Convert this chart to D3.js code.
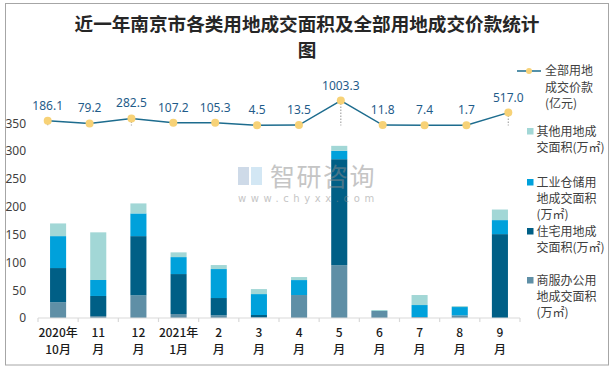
<!DOCTYPE html>
<html><head><meta charset="utf-8">
<script src="https://cdn.jsdelivr.net/npm/d3@7"></script>
<style>
html,body{margin:0;padding:0;background:#fff;}
svg{display:block;font-family:"Noto Sans CJK SC","Noto Sans",sans-serif;}
</style></head>
<body><svg id="c" width="616" height="369"></svg>
<script>
const categories = ["2020年\n10月","11\n月","12\n月","2021年\n1月","2\n月","3\n月","4\n月","5\n月","6\n月","7\n月","8\n月","9\n月"];
const commercial  = [28.2, 3.6, 40.7, 7.2, 4.8, 1.8, 41.3, 95.0, 12.6, 1.8, 4.8, 0];
const residential = [61.6, 36.0, 106.5, 71.8, 31.1, 3.6, 0, 190.5, 0, 0, 0, 150.8];
const industrial  = [57.4, 28.7, 40.8, 30.5, 52.1, 37.6, 26.9, 15.0, 0, 21.5, 14.9, 25.2];
const other       = [22.8, 85.7, 18.0, 8.5, 7.2, 9.0, 5.4, 9.0, 1.8, 18.0, 1.8, 19.0];
const totalPrice  = [186.1, 79.2, 282.5, 107.2, 105.3, 4.5, 13.5, 1003.3, 11.8, 7.4, 1.7, 517.0];
const yTicks = [0, 50, 100, 150, 200, 250, 300, 350];

const seriesKeys = ["commercial","residential","industrial","other"];
const seriesNames = {
  other: ["其他用地成","交面积(万㎡)"],
  industrial: ["工业仓储用","地成交面积","(万㎡)"],
  residential: ["住宅用地成","交面积(万㎡)"],
  commercial: ["商服办公用","地成交面积","(万㎡)"]
};
const colors = {commercial:"#5f8fa6", residential:"#005f86", industrial:"#00a1db", other:"#a2d7d6"};
const lineColor = "#1d6c8e", dotColor = "#f7d277", labelColor = "#1f5c8a";

const table = categories.map((c,i)=>({cat:c, commercial:commercial[i], residential:residential[i], industrial:industrial[i], other:other[i], price:totalPrice[i]}));

const svg = d3.select("#c");
// frame
svg.append("rect").attr("x",5.5).attr("y",3.5).attr("width",603).attr("height",361.5)
  .attr("fill","none").attr("stroke","#a6a6a6").attr("stroke-width",1);

// title
const title = svg.append("text").attr("text-anchor","middle").attr("font-weight","bold")
  .attr("font-size",18.6).attr("fill","#262626");
title.append("tspan").attr("x",307).attr("y",31).text("近一年南京市各类用地成交面积及全部用地成交价款统计");
title.append("tspan").attr("x",307).attr("y",57).text("图");

const x0 = 38, x1 = 520, yBottom = 318, yTop = 95.5;
const x = d3.scaleBand().domain(categories).range([x0,x1]).paddingInner(0.6).paddingOuter(0.3);
const xp = d3.scalePoint().domain(categories).range([47.7,508.3]);
const y = d3.scaleLinear().domain([0,400]).range([yBottom,yTop]);
const y2 = d3.scaleLinear().domain([-7800,1210]).range([yBottom,yTop]);

// y axis labels
const yAxis = d3.axisLeft(y).tickValues(yTicks).tickSize(0).tickPadding(0);
const ya = svg.append("g").attr("transform","translate(26,0)").call(yAxis);
ya.select(".domain").remove();
ya.selectAll("text").attr("font-size",12).attr("fill","#404040").attr("font-family","'Noto Sans','DejaVu Sans',sans-serif");

// stacked bars
const stack = d3.stack().keys(seriesKeys)(table);
svg.append("g").selectAll("g").data(stack).join("g")
  .attr("fill",d=>colors[d.key])
  .selectAll("rect").data(d=>d).join("rect")
  .attr("x",d=>x(d.data.cat)).attr("width",x.bandwidth())
  .attr("y",d=>y(d[1])).attr("height",d=>Math.max(0,y(d[0])-y(d[1])));

// x axis
const xAxisG = svg.append("g").attr("transform",`translate(0,${yBottom})`);
xAxisG.append("line").attr("x1",x0).attr("x2",x1).attr("stroke","#d9d9d9").attr("stroke-width",1.2);
const step = x.step();
xAxisG.selectAll("line.tk").data(d3.range(categories.length+1)).join("line").attr("class","tk")
  .attr("x1",i=>x0+i*step).attr("x2",i=>x0+i*step).attr("y1",0).attr("y2",4)
  .attr("stroke","#d9d9d9").attr("stroke-width",1.2);
const xl = xAxisG.selectAll("text").data(categories).join("text")
  .attr("text-anchor","middle").attr("font-size",12).attr("font-weight",500).attr("fill","#1a1a1a");
xl.each(function(c){
  const t = d3.select(this);
  c.split("\n").forEach((s,k)=>t.append("tspan").attr("x",x(c)+x.bandwidth()/2).attr("y",19+k*17).text(s));
});

// watermark
const wm = svg.append("g").attr("opacity",0.5);
wm.append("rect").attr("x",238).attr("y",167).attr("width",11).attr("height",18).attr("fill","#9fb6d2");
wm.append("rect").attr("x",251).attr("y",167).attr("width",11).attr("height",18).attr("fill","#a9d0ea");
wm.append("text").attr("x",270).attr("y",186).attr("font-size",25).attr("fill","#8c8c8c").attr("letter-spacing",1.5).text("智研咨询");
wm.append("text").attr("x",238).attr("y",202).attr("font-size",10).attr("fill","#8c8c8c").attr("letter-spacing",4.6)
  .attr("font-family","'DejaVu Sans',sans-serif").text("www.chyxx.com");

// drop lines
svg.append("g").selectAll("line").data(table).join("line")
  .attr("x1",d=>xp(d.cat)).attr("x2",d=>xp(d.cat)).attr("y1",d=>y2(d.price)).attr("y2",y2(0))
  .attr("stroke","#a6a6a6").attr("stroke-width",1.2).attr("stroke-dasharray","1.5,1.5");

// line
svg.append("path").datum(table).attr("fill","none").attr("stroke",lineColor).attr("stroke-width",1.5)
  .attr("d",d3.line().x(d=>xp(d.cat)).y(d=>y2(d.price)));
svg.append("g").selectAll("circle").data(table).join("circle")
  .attr("cx",d=>xp(d.cat)).attr("cy",d=>y2(d.price)).attr("r",4).attr("fill",dotColor);
svg.append("g").selectAll("text").data(table).join("text")
  .attr("x",d=>xp(d.cat)).attr("y",d=>y2(d.price)-11).attr("text-anchor","middle")
  .attr("font-size",12).attr("fill",labelColor).attr("font-family","'Noto Sans','DejaVu Sans',sans-serif")
  .text(d=>d.price.toFixed(1));

// legend
const lg = svg.append("g").attr("font-size",12).attr("fill","#404040");
lg.append("line").attr("x1",517).attr("x2",541).attr("y1",71).attr("y2",71).attr("stroke",lineColor).attr("stroke-width",1.5);
lg.append("circle").attr("cx",529).attr("cy",71).attr("r",3).attr("fill",dotColor);
[["全部用地",75],["成交价款",91.5],["(亿元)",108]].forEach(([s,yy])=>lg.append("text").attr("x",545).attr("y",yy).attr("fill","#404040").text(s));
const legItems = [["other",131],["industrial",182],["residential",231],["commercial",280]];
legItems.forEach(([k,yy])=>{
  lg.append("rect").attr("x",527).attr("y",yy-3).attr("width",6.5).attr("height",6.5).attr("fill",colors[k]);
  seriesNames[k].forEach((s,j)=>lg.append("text").attr("x",536.5).attr("y",yy+4.5+j*16.3).attr("fill","#404040").text(s));
});
</script></body></html>
